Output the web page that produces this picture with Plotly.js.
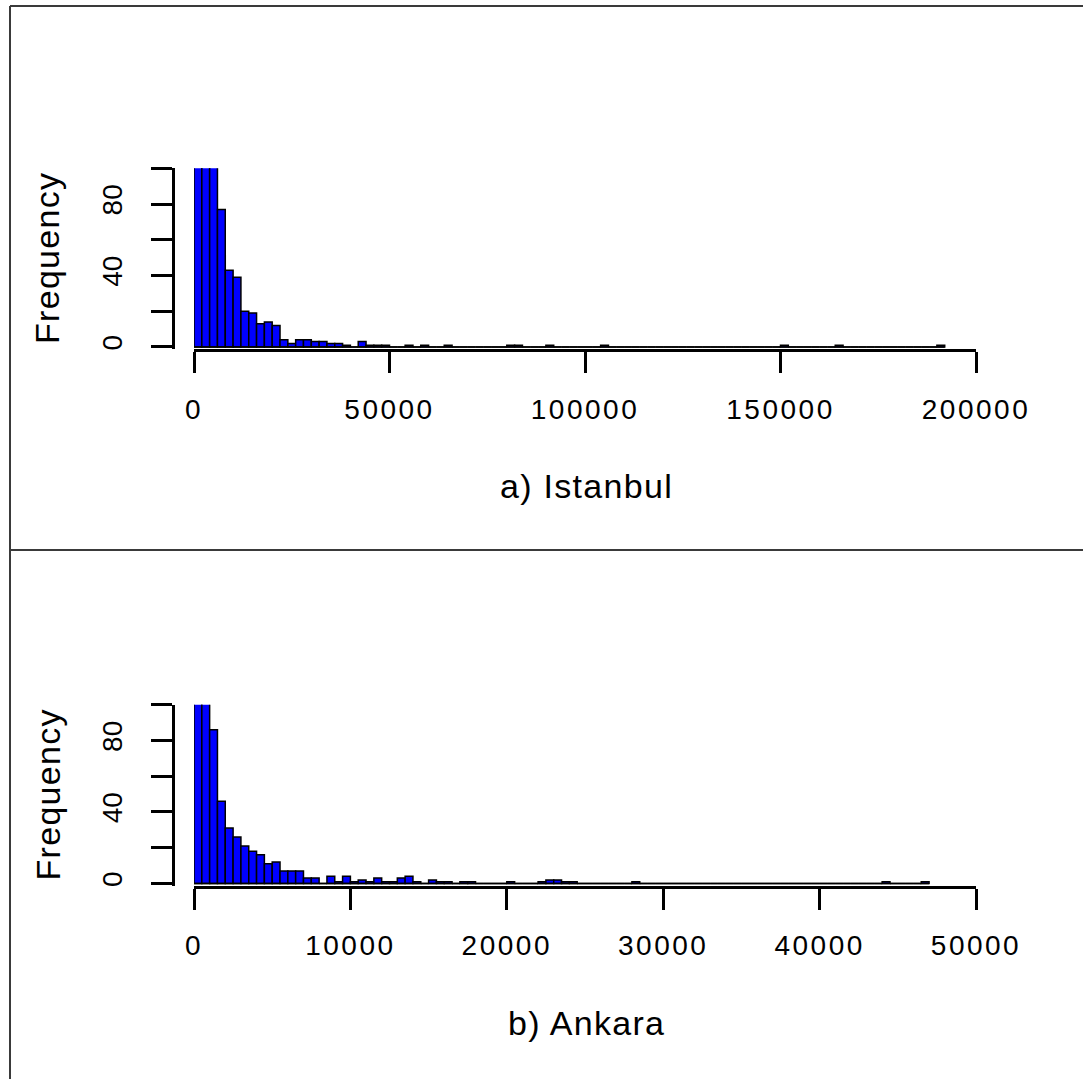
<!DOCTYPE html>
<html><head><meta charset="utf-8">
<script src="https://cdn.plot.ly/plotly-3.0.1.min.js"></script>
<style>
html,body{margin:0;padding:0;background:#fff}
.xtick text,.x2tick text{letter-spacing:2.5px}
.annotation-text{letter-spacing:1.3px}
</style>
</head><body><div id="chart" style="width:1083px;height:1079px"></div>
<script>
// ---- data (histogram bin counts) ----
const istanbulBinWidth = 2000;
const istanbulCounts = [
  180,150,115,77,43,39,20,19,13,14,
  12,4,2,4,4,3,3,2,2,1,
  0,3,1,1,1,0,0,1,0,1,
  0,0,1,0,0,0,0,0,0,0,
  1,1,0,0,0,1,0,0,0,0,
  0,0,1,0,0,0,0,0,0,0,
  0,0,0,0,0,0,0,0,0,0,
  0,0,0,0,0,1,0,0,0,0,
  0,0,1,0,0,0,0,0,0,0,
  0,0,0,0,0,1
];
const ankaraBinWidth = 500;
const ankaraCounts = [
  170,125,86,46,31,26,21,18,16,11,
  12,7,7,7,3,3,0,4,1,4,
  1,2,1,3,1,1,3,4,1,0,
  2,1,1,0,1,1,0,0,0,0,
  1,0,0,0,1,2,2,1,1,0,
  0,0,0,0,0,0,1,0,0,0,
  0,0,0,0,0,0,0,0,0,0,
  0,0,0,0,0,0,0,0,0,0,
  0,0,0,0,0,0,0,0,1,0,
  0,0,0,1
];
const istanbulTicks = [0, 50000, 100000, 150000, 200000];
const ankaraTicks = [0, 10000, 20000, 30000, 40000, 50000];
const freqTicks = [0, 20, 40, 60, 80, 100];
const freqTickText = ['0', '', '40', '', '80', ''];
const panelTitles = ['a) Istanbul', 'b) Ankara'];
const yTitle = 'Frequency';

// ---- layout helpers ----
const W = 1083, H = 1079;
const fx = px => px / W;
const fy = py => 1 - py / H;
const FONT = 'Liberation Sans, Arial, sans-serif';
const OFF = 536.5; // vertical offset of second panel

function barTrace(counts, bw, xa, ya) {
  return {
    type: 'bar',
    x: counts.map((_, i) => (i + 0.5) * bw),
    y: counts,
    width: bw,
    marker: {color: '#0000FF', line: {color: '#000', width: 1.5}},
    xaxis: xa, yaxis: ya, hoverinfo: 'skip', showlegend: false
  };
}
function baseTrace(counts, bw, xa, ya) {
  return {
    type: 'scatter', mode: 'lines',
    x: [0, counts.length * bw], y: [0, 0],
    line: {color: '#000', width: 1.5},
    xaxis: xa, yaxis: ya, hoverinfo: 'skip', showlegend: false
  };
}
function xAxis(ticks, yname) {
  return {
    domain: [fx(194), fx(976)],
    range: [0, ticks[ticks.length - 1]],
    anchor: yname,
    showline: true, linewidth: 3, linecolor: '#000',
    ticks: 'outside', ticklen: 21, tickwidth: 3, tickcolor: '#000',
    tickvals: ticks, ticktext: ticks.map(String),
    tickfont: {family: FONT, size: 28, color: '#000'},
    ticklabelstandoff: 12,
    showgrid: false, zeroline: false, fixedrange: true
  };
}
function yAxis(offset) {
  return {
    domain: [fy(349.1 + offset), fy(168.3 + offset)],
    range: [-1.2, 100],
    anchor: 'free', position: fx(173),
    showline: true, linewidth: 3, linecolor: '#000',
    ticks: 'outside', ticklen: 21, tickwidth: 3, tickcolor: '#000',
    tickvals: freqTicks, ticktext: freqTickText, tickangle: -90,
    tickfont: {family: FONT, size: 28, color: '#000'},
    ticklabelstandoff: 18,
    showgrid: false, zeroline: false, fixedrange: true
  };
}

const data = [
  barTrace(istanbulCounts, istanbulBinWidth, 'x', 'y'),
  baseTrace(istanbulCounts, istanbulBinWidth, 'x', 'y'),
  barTrace(ankaraCounts, ankaraBinWidth, 'x2', 'y2'),
  baseTrace(ankaraCounts, ankaraBinWidth, 'x2', 'y2')
];

const ann = (text, x, y, angle) => ({
  text: text, xref: 'paper', yref: 'paper', x: fx(x), y: fy(y),
  xanchor: 'center', yanchor: 'middle', showarrow: false, textangle: angle,
  font: {family: FONT, size: 34, color: '#000'}
});

const layout = {
  width: W, height: H,
  margin: {l: 0, r: 0, t: 0, b: 0},
  paper_bgcolor: '#fff', plot_bgcolor: '#fff',
  bargap: 0,
  xaxis: xAxis(istanbulTicks, 'y'),
  yaxis: yAxis(0),
  xaxis2: xAxis(ankaraTicks, 'y2'),
  yaxis2: yAxis(OFF),
  annotations: [
    ann(yTitle, 47, 258, -90),
    ann(yTitle, 47, 258 + OFF, -90),
    ann(panelTitles[0], 586, 486, 0),
    ann(panelTitles[1], 586, 486 + OFF, 0)
  ],
  shapes: [
    {type: 'line', xref: 'paper', yref: 'paper', x0: fx(10), x1: fx(10), y0: fy(6), y1: -0.02, line: {color: '#3a3a3a', width: 2}},
    {type: 'line', xref: 'paper', yref: 'paper', x0: fx(10), x1: 1.02, y0: fy(6), y1: fy(6), line: {color: '#3a3a3a', width: 2}},
    {type: 'line', xref: 'paper', yref: 'paper', x0: fx(10), x1: 1.02, y0: fy(550), y1: fy(550), line: {color: '#3a3a3a', width: 2}}
  ]
};

Plotly.newPlot('chart', data, layout, {staticPlot: true, displayModeBar: false});
</script>
</body></html>
